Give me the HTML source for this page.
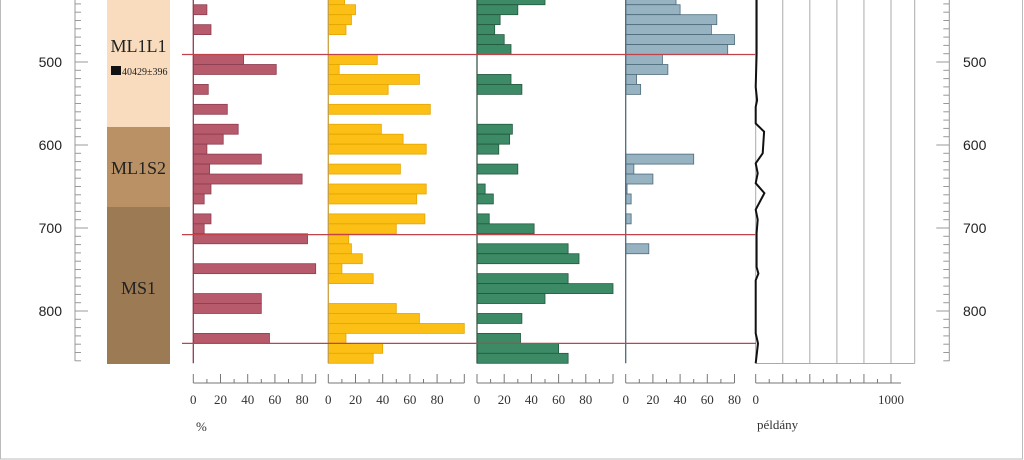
<!DOCTYPE html>
<html><head><meta charset="utf-8"><style>
html,body{margin:0;padding:0;background:#fff}
svg{display:block}
.ser{font-family:"Liberation Serif",serif}
.san{font-family:"Liberation Sans",sans-serif}
</style></head><body>
<svg id="chart" width="1024" height="460" viewBox="0 0 1024 460" xmlns="http://www.w3.org/2000/svg">
<rect x="0.5" y="-2" width="1022" height="461" fill="#fff" stroke="#bbb"/>
<g>
<rect x="107" y="0" width="63" height="127" fill="#f9dcbd"/>
<rect x="107" y="127" width="63" height="80" fill="#b99164"/>
<rect x="107" y="207" width="63" height="157" fill="#9c7a53"/>
<text class="ser" x="138.5" y="52" font-size="18" text-anchor="middle" fill="#222">ML1L1</text>
<rect x="111" y="66" width="10" height="9" fill="#111"/>
<text class="ser" x="122" y="75" font-size="10" fill="#222">40429±396</text>
<text class="ser" x="138.5" y="174" font-size="18" text-anchor="middle" fill="#222">ML1S2</text>
<text class="ser" x="138.5" y="294" font-size="18" text-anchor="middle" fill="#222">MS1</text>
</g>
<g id="plots"></g>
<text class="ser" x="196" y="431" font-size="13" fill="#333">%</text>
<text class="ser" x="757" y="429" font-size="13" fill="#333">példány</text>
</svg>
<script>
const depths=[419,431,443,455,467,479,491,503,515,527,539,551,563,575,587,599,611,623,635,647,659,671,683,695,707,719,731,743,755,767,779,791,803,815,827,839,851];
const redVals=[0,10,0,13,0,0,37,61,0,11,0,25,0,33,22,10,50,12,80,13,8,0,13,8,84,0,0,90,0,0,50,50,0,0,56,0,0];
const yellowVals=[12,20,17,13,0,0,36,8,67,44,0,75,0,39,55,72,0,53,0,72,65,0,71,50,15,17,25,10,33,0,0,50,67,100,13,40,33];
const greenVals=[50,30,17,13,20,25,0,0,25,33,0,0,0,26,24,16,0,30,0,6,12,0,9,42,0,67,75,0,67,100,50,0,33,0,32,60,67];
const blueVals=[37,40,67,63,80,75,27,31,8,11,0,0,0,0,0,0,50,6,20,1,4,0,4,0,0,17,0,0,0,0,0,0,0,0,0,0,0];
const lineDepths=[419,491,530,546,554,574,584,610,622,634,646,658,678,690,706,747,755,763,827,839,863];
const lineVals=[7,7,0,10,0,0,62,52,0,15,0,64,0,15,7,7,20,0,0,17,0];
const boundaryDepths=[491,708,839];
const depthTicks=[500,600,700,800];
const pctTicks=[0,20,40,60,80];
const countTicks=[0,1000];
const rowStep=12;
const NS="http://www.w3.org/2000/svg";
const g=document.getElementById('plots');
function y(d){return 62+(d-500)*0.83;}
function mk(tag,attrs,parent){const e=document.createElementNS(NS,tag);for(const k in attrs)e.setAttribute(k,attrs[k]);(parent||g).appendChild(e);return e;}
const panels=[
 {name:'red',vals:redVals,x0:193.3,max:90,fill:'#b75a6c',stroke:'#8e3d50',axis:'#8e3d50'},
 {name:'yellow',vals:yellowVals,x0:328.3,max:100,fill:'#fbbf16',stroke:'#e3a500',axis:'#c9a040'},
 {name:'green',vals:greenVals,x0:477,max:100,fill:'#3c8a66',stroke:'#24583f',axis:'#3a5a4a'},
 {name:'blue',vals:blueVals,x0:625.7,max:80,fill:'#97b3c2',stroke:'#4c6b7b',axis:'#4c6b7b'}
];
const pxPer=1.36;
panels.forEach(p=>{
  const grp=mk('g',{});
  
  
  p.vals.forEach((v,i)=>{
    if(v<=0)return;
    const r=mk('rect',{x:p.x0,y:y(depths[i]),width:v*pxPer,height:rowStep*0.83,fill:p.fill,stroke:p.stroke,'stroke-width':0.8},grp);
    
    
  });
  const ax=mk('line',{x1:p.x0,y1:0,x2:p.x0,y2:y(863),stroke:p.axis,'stroke-width':1.3},grp);
  
  
  const bx=mk('g',{},grp);
  
  
  mk('line',{x1:p.x0,y1:383,x2:p.x0+p.max*pxPer,y2:383,stroke:'#777','stroke-width':1},bx);
  for(let t=0;t<=p.max;t+=10){
    const xx=p.x0+t*pxPer;const maj=(t%20===0)||t===p.max;
    mk('line',{x1:xx,y1:383,x2:xx,y2:maj?374:379,stroke:'#777','stroke-width':1},bx);
  }
  pctTicks.forEach(t=>{
    if(t>p.max)return;
    const tx=mk('text',{x:p.x0+t*pxPer,y:404,'font-size':13,'text-anchor':'middle',fill:'#333',class:'ser'},bx);
    tx.textContent=t;
    
    
  });
});
// count line panel
const cx0=755.7,cPer=0.1353;
function cx(v){return cx0+v*cPer;}
const lp=mk('g',{});


[200,400,600,800,1000].forEach(t=>{
  const l=mk('line',{x1:cx(t),y1:0,x2:cx(t),y2:363.5,stroke:'#aaa','stroke-width':1},lp);
  
  
});
mk('line',{x1:914.7,y1:0,x2:914.7,y2:363.5,stroke:'#aaa','stroke-width':1},lp);
mk('line',{x1:cx0,y1:363.5,x2:914.7,y2:363.5,stroke:'#aaa','stroke-width':1},lp);
mk('line',{x1:cx0,y1:0,x2:cx0,y2:363.5,stroke:'#aaa','stroke-width':1},lp);
const pts=lineDepths.map((d,i)=>cx(lineVals[i]).toFixed(1)+','+y(d).toFixed(1)).join(' ');
const pl=mk('polyline',{points:pts,fill:'none',stroke:'#111','stroke-width':2},lp);


const cax=mk('g',{},lp);


mk('line',{x1:cx0,y1:383,x2:901,y2:383,stroke:'#777'},cax);
for(let t=0;t<=1000;t+=100){mk('line',{x1:cx(t),y1:383,x2:cx(t),y2:t%200===0?374:379,stroke:'#777'},cax);}
countTicks.forEach(t=>{
  const tx=mk('text',{x:cx(t),y:404,'font-size':13,'text-anchor':'middle',fill:'#333',class:'ser'},cax);
  tx.textContent=t;
  
  
});
// boundary lines
boundaryDepths.forEach(d=>{
  const l=mk('line',{x1:182,y1:y(d),x2:756,y2:y(d),stroke:'#c0424a','stroke-width':1.3});
  
  
});
// depth rulers
function ruler(side){
  const rg=mk('g',{});
  
  
  const lx=side==='left'?75:949.3,dir=side==='left'?1:-1;
  mk('line',{x1:lx,y1:0,x2:lx,y2:361,stroke:'#999'},rg);
  for(let d=430;d<=860;d+=10){
    const maj=d%100===0;
    mk('line',{x1:lx,y1:y(d),x2:lx+dir*(maj?13:6),y2:y(d),stroke:'#999'},rg);
  }
  depthTicks.forEach(d=>{
    const tx=mk('text',{x:side==='left'?62:963,y:y(d)+5,'font-size':14,'text-anchor':side==='left'?'end':'start',fill:'#222',class:'san'},rg);
    tx.textContent=d;
    
    
  });
}
ruler('left');ruler('right');
</script>
</body></html>
